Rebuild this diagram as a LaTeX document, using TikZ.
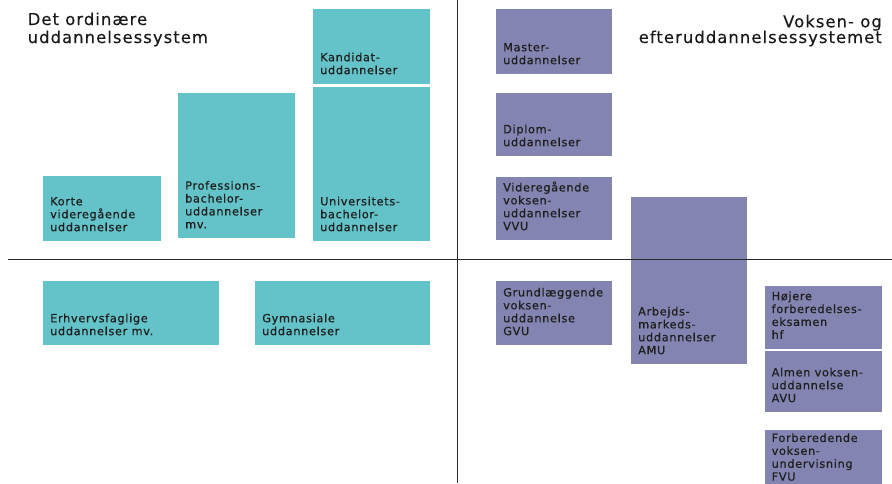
\documentclass[tikz,border=0pt]{standalone}
\usepackage{fontspec}
\setmainfont{DejaVu Sans}
\newfontfamily\boxfont{DejaVu Sans}[LetterSpace=6,FakeBold=0.7]
\newfontfamily\headfont{DejaVu Sans}[LetterSpace=6.5,FakeBold=0.3]
\definecolor{edteal}{RGB}{99,195,201}
\definecolor{edpurple}{RGB}{132,132,178}
\definecolor{edline}{RGB}{40,40,40}
\newcommand\edubox[7]{%
  \node[#2, anchor=north west, minimum width={(#5-#3)*1pt}, minimum height={(#6-#4)*1pt}] (#1) at (#3,#4) {};
  \node[boxtext, anchor=south west] (#1-t) at ([xshift=7pt,yshift=9.5pt]#1.south west) {#7};
}
\begin{document}
\begin{tikzpicture}[x=1pt,y=-1pt,
  tealbox/.style={fill=edteal, draw=none, inner sep=0pt, outer sep=0pt},
  purplebox/.style={fill=edpurple, draw=none, inner sep=0pt, outer sep=0pt},
  boxtext/.style={inner sep=0pt, align=left, text=black!88, font=\boxfont\fontsize{11.3}{12.9}\selectfont},
  heading/.style={inner sep=0pt, text=black!90, font=\headfont\fontsize{16.4}{18}\selectfont},
  axis/.style={draw=edline, line width=1pt}]
\useasboundingbox (0,0) rectangle (892,483);

% left side: ordinary system
\edubox{kand}{tealbox}{313}{9}{430}{84}{Kandidat-\\uddannelser}
\edubox{univ}{tealbox}{313}{86.5}{430}{241}{Universitets-\\bachelor-\\uddannelser}
\edubox{prof}{tealbox}{178}{93}{295}{238}{Professions-\\bachelor-\\uddannelser\\mv.}
\edubox{korte}{tealbox}{43}{176}{161}{241}{Korte\\videregående\\uddannelser}
\edubox{erhv}{tealbox}{43}{281}{219}{345}{Erhvervsfaglige\\uddannelser mv.}
\edubox{gym}{tealbox}{255}{281}{430}{345}{Gymnasiale\\uddannelser}

% right side: adult and continuing education
\edubox{master}{purplebox}{496}{9}{612}{74}{Master-\\uddannelser}
\edubox{diplom}{purplebox}{496}{93}{612}{156}{Diplom-\\uddannelser}
\edubox{vvu}{purplebox}{496}{176.5}{612}{240}{Videregående\\voksen-\\uddannelser\\VVU}
\edubox{gvu}{purplebox}{496}{281}{612}{345}{Grundlæggende\\voksen-\\uddannelse\\GVU}
\edubox{amu}{purplebox}{631}{197}{747}{364}{Arbejds-\\markeds-\\uddannelser\\AMU}
\edubox{hf}{purplebox}{764.5}{286}{881.5}{348.5}{Højere\\forberedelses-\\eksamen\\hf}
\edubox{avu}{purplebox}{764.5}{351}{881.5}{412}{Almen voksen-\\uddannelse\\AVU}
\edubox{fvu}{purplebox}{764.5}{430}{881.5}{490.5}{Forberedende\\voksen-\\undervisning\\FVU}

% axes
\coordinate (hl) at (8,259.5);
\coordinate (hr) at (892,259.5);
\coordinate (vt) at (457,0);
\coordinate (vb) at (457,483);
\draw[axis] (hl) -- (hr);
\draw[axis] (vt) -- (vb);

% headings
\node[heading, anchor=base west] (lh1) at (27.5,25) {Det ordinære};
\node[heading, anchor=base west] (lh2) at (27.5,43) {uddannelsessystem};
\node[heading, anchor=base east] (rh1) at (882,27.3) {Voksen- og};
\node[heading, anchor=base east] (rh2) at (882,43) {efteruddannelsessystemet};
\end{tikzpicture}
\end{document}
